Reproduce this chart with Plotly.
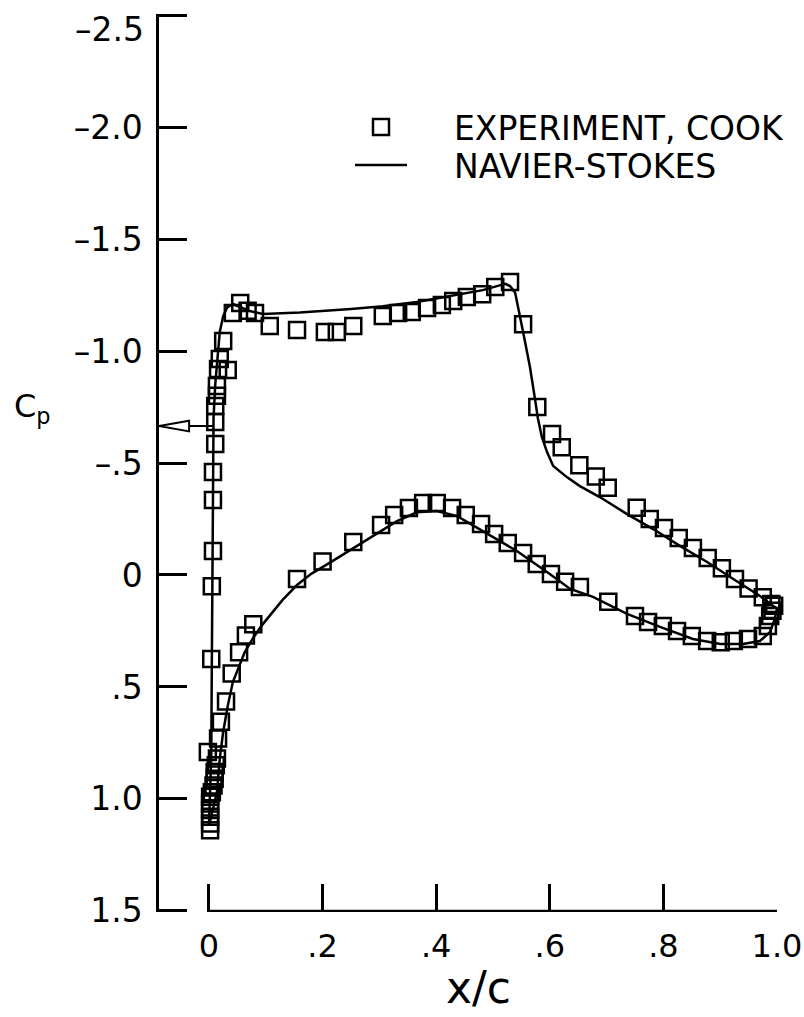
import plotly.graph_objects as go

# ---------------- data ----------------
# Experiment (Cook) - upper surface, leading edge -> trailing edge
exp_upper_x = [0.002, 0.002, 0.002, -0.002, 0.004, 0.005, 0.007, 0.007, 0.007, 0.011,
               0.011, 0.011, 0.014, 0.014, 0.016, 0.033, 0.019, 0.025, 0.042, 0.055,
               0.068, 0.081, 0.107, 0.155, 0.204, 0.225, 0.254, 0.306, 0.333, 0.357,
               0.384, 0.410, 0.430, 0.454, 0.481, 0.504, 0.530, 0.553, 0.578, 0.604,
               0.621, 0.652, 0.681, 0.702, 0.753, 0.776, 0.801, 0.827, 0.852, 0.878,
               0.903, 0.926, 0.950, 0.975, 0.990]
exp_upper_cp = [1.14, 1.11, 1.08, 0.79, 0.375, 0.05, -0.107, -0.335, -0.46, -0.585,
                -0.683, -0.754, -0.80, -0.844, -0.92, -0.915, -0.964, -1.045, -1.17, -1.215,
                -1.18, -1.17, -1.112, -1.094, -1.085, -1.085, -1.112, -1.156, -1.17, -1.174,
                -1.192, -1.205, -1.223, -1.241, -1.254, -1.286, -1.308, -1.12, -0.75, -0.63,
                -0.57, -0.49, -0.44, -0.39, -0.30, -0.25, -0.21, -0.165, -0.12, -0.076,
                -0.03, 0.018, 0.06, 0.10, 0.13]

# Experiment (Cook) - lower surface
exp_lower_x = [0.002, 0.002, 0.002, 0.005, 0.008, 0.010, 0.010, 0.012, 0.014, 0.016,
               0.021, 0.030, 0.040, 0.053, 0.065, 0.078, 0.155, 0.200, 0.254, 0.303,
               0.326, 0.352, 0.377, 0.401, 0.428, 0.452, 0.479, 0.502, 0.526, 0.553,
               0.577, 0.602, 0.627, 0.653, 0.703, 0.750, 0.773, 0.799, 0.824, 0.850,
               0.877, 0.901, 0.924, 0.949, 0.975, 0.984, 0.988, 0.992, 0.995]
exp_lower_cp = [1.05, 1.02, 0.99, 0.97, 0.94, 0.91, 0.88, 0.85, 0.82, 0.73,
                0.655, 0.565, 0.44, 0.345, 0.27, 0.22, 0.018, -0.06, -0.147, -0.223,
                -0.268, -0.299, -0.321, -0.321, -0.299, -0.268, -0.228, -0.183, -0.143, -0.098,
                -0.049, -0.004, 0.03, 0.054, 0.12, 0.183, 0.21, 0.228, 0.25, 0.272,
                0.295, 0.30, 0.295, 0.286, 0.272, 0.228, 0.183, 0.16, 0.138]

# Navier-Stokes - upper surface
ns_upper_x = [0.0, 0.002, 0.004, 0.005, 0.006, 0.007, 0.008, 0.011, 0.014, 0.019,
              0.025, 0.032, 0.042, 0.055, 0.070, 0.095, 0.160, 0.250, 0.306, 0.366,
              0.424, 0.482, 0.510, 0.522, 0.530, 0.539, 0.553, 0.565, 0.574, 0.579,
              0.586, 0.595, 0.606, 0.630, 0.653, 0.688, 0.736, 0.782, 0.829, 0.877,
              0.923, 0.970, 0.993, 1.0]
ns_upper_cp = [1.12, 1.0, 0.8, 0.4, 0.0, -0.4, -0.7, -0.85, -0.93, -1.085,
               -1.156, -1.195, -1.21, -1.195, -1.18, -1.165, -1.172, -1.188, -1.20, -1.219,
               -1.246, -1.272, -1.292, -1.30, -1.29, -1.26, -1.085, -0.93, -0.785, -0.70,
               -0.616, -0.55, -0.487, -0.437, -0.397, -0.348, -0.272, -0.205, -0.13, -0.058,
               0.018, 0.094, 0.138, 0.15]

# Navier-Stokes - lower surface
ns_lower_x = [0.0, 0.014, 0.019, 0.025, 0.033, 0.042, 0.063, 0.078, 0.093, 0.110,
              0.130, 0.155, 0.180, 0.213, 0.271, 0.331, 0.366, 0.401, 0.437, 0.482,
              0.542, 0.600, 0.636, 0.676, 0.736, 0.794, 0.852, 0.900, 0.940, 0.970,
              0.988, 0.996, 1.0]
ns_lower_cp = [1.12, 0.97, 0.82, 0.70, 0.585, 0.478, 0.344, 0.28, 0.225, 0.17,
               0.11, 0.045, -0.005, -0.055, -0.147, -0.24, -0.28, -0.286, -0.263, -0.196,
               -0.107, -0.004, 0.0625, 0.098, 0.174, 0.232, 0.286, 0.308, 0.308, 0.295,
               0.254, 0.196, 0.15]

# critical pressure coefficient marked by the arrow on the Cp axis
CP_STAR = -0.665

y_tickvals = [-2.5, -2.0, -1.5, -1.0, -0.5, 0, 0.5, 1.0, 1.5]
y_ticktext = ["\u20132.5", "\u20132.0", "\u20131.5", "\u20131.0", "\u2013.5", "0", ".5", "1.0", "1.5"]
x_tickvals = [0, 0.2, 0.4, 0.6, 0.8, 1.0]
x_ticktext = ["0", ".2", ".4", ".6", ".8", "1.0"]

# ---------------- layout constants ----------------
W, H = 804, 1017
ML, MR, MT, MB = 159, 27, 14, 105
PW, PH = W - ML - MR, H - MT - MB
X_RANGE = [-0.088, 1.0]
Y_RANGE = [1.505, -2.505]
FONT = "DejaVu Sans"
LW = 2.5
LEG_FONT = 33
TICK_FONT = 33
GAP = "\u00a0\u00a0\u00a0\u00a0"


def px_x(p):
    return (p - ML) / PW


def px_y(p):
    return 1 - (p - MT) / PH


fig = go.Figure()

mk = dict(symbol="square-open", size=16, color="black", line=dict(width=2.5, color="black"))

fig.add_trace(go.Scatter(x=exp_upper_x, y=exp_upper_cp, mode="markers", marker=mk,
                         name=GAP + "EXPERIMENT, COOK", legendgroup="exp", legend="legend",
                         cliponaxis=False))
fig.add_trace(go.Scatter(x=exp_lower_x, y=exp_lower_cp, mode="markers", marker=mk,
                         name=GAP + "EXPERIMENT, COOK", legendgroup="exp", showlegend=False,
                         cliponaxis=False))
fig.add_trace(go.Scatter(x=ns_upper_x, y=ns_upper_cp, mode="lines",
                         line=dict(color="black", width=LW),
                         name=GAP + "NAVIER-STOKES", legendgroup="ns", legend="legend2",
                         cliponaxis=False))
fig.add_trace(go.Scatter(x=ns_lower_x, y=ns_lower_cp, mode="lines",
                         line=dict(color="black", width=LW),
                         name=GAP + "NAVIER-STOKES", legendgroup="ns", showlegend=False,
                         cliponaxis=False))

# x axis line only spans 0..1 (detached from the Cp axis)
fig.add_shape(type="line", xref="x", yref="y", x0=x_tickvals[0], x1=x_tickvals[-1],
              y0=y_tickvals[-1], y1=y_tickvals[-1], line=dict(color="black", width=LW))

# arrow marking Cp*
x0 = X_RANGE[0]
dx = 0.053
dy = 0.024
fig.add_shape(type="line", xref="x", yref="y", x0=x0, x1=0.007, y0=CP_STAR, y1=CP_STAR,
              line=dict(color="black", width=2))
fig.add_shape(type="path", xref="x", yref="y",
              path=f"M {x0},{CP_STAR} L {x0 + dx},{CP_STAR - dy} L {x0 + dx},{CP_STAR + dy} Z",
              line=dict(color="black", width=2), fillcolor="white")

# the top tick label sits just below its tick (kept inside the page)
y_ticktext_axis = [""] + y_ticktext[1:]
fig.add_annotation(text=y_ticktext[0], xref="paper", yref="paper",
                   x=px_x(146), y=px_y(29), xanchor="right", yanchor="middle",
                   showarrow=False, font=dict(family=FONT, size=TICK_FONT, color="black"))

# axis titles
fig.add_annotation(text="C<sub>p</sub>", xref="paper", yref="paper",
                   x=px_x(32), y=px_y(408), xanchor="center", yanchor="middle",
                   showarrow=False, font=dict(family=FONT, size=32, color="black"))
fig.add_annotation(text="x/c", xref="paper", yref="paper",
                   x=px_x(478), y=px_y(987), xanchor="center", yanchor="middle",
                   showarrow=False, font=dict(family=FONT, size=44, color="black"))

leg_common = dict(xanchor="left", yanchor="middle", bgcolor="rgba(0,0,0,0)",
                  font=dict(family=FONT, size=LEG_FONT, color="black"),
                  itemwidth=52)

fig.update_layout(
    width=W, height=H,
    margin=dict(l=ML, r=MR, t=MT, b=MB, autoexpand=False),
    paper_bgcolor="white", plot_bgcolor="white",
    font=dict(family=FONT, size=33, color="black"),
    showlegend=True,
    legend=dict(x=px_x(350), y=px_y(127), **leg_common),
    legend2=dict(x=px_x(350), y=px_y(165), **leg_common),
    xaxis=dict(range=X_RANGE, showgrid=False, zeroline=False, showline=False,
               automargin=False,
               ticks="inside", ticklen=28, tickwidth=LW, tickcolor="black",
               tickvals=x_tickvals, ticktext=x_ticktext, ticklabelstandoff=12,
               ticklabeloverflow="allow",
               tickfont=dict(family=FONT, size=32, color="black")),
    yaxis=dict(range=Y_RANGE, showgrid=False, zeroline=False, showline=True,
               linecolor="black", linewidth=LW, automargin=False,
               ticks="inside", ticklen=28, tickwidth=LW, tickcolor="black",
               tickvals=y_tickvals, ticktext=y_ticktext_axis, ticklabelstandoff=7,
               ticklabeloverflow="allow",
               tickfont=dict(family=FONT, size=TICK_FONT, color="black")),
)

fig.write_html("out.html")
